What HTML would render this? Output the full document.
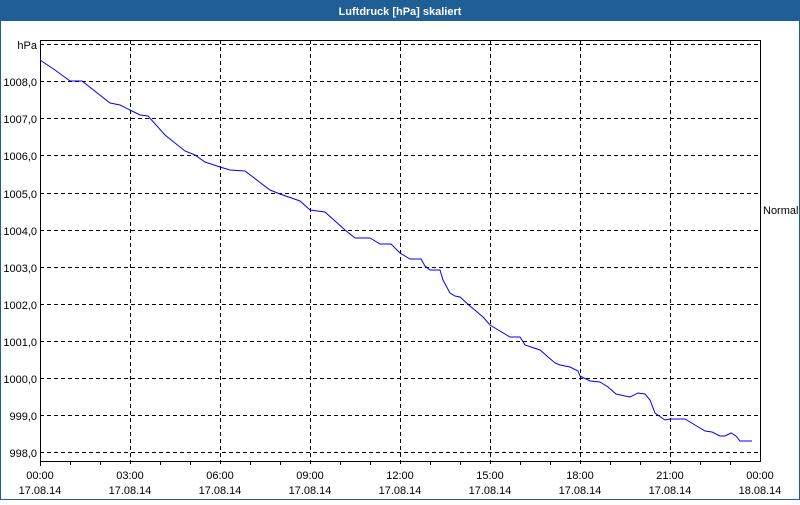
<!DOCTYPE html>
<html><head><style>
body{margin:0;width:800px;height:500px;overflow:hidden;background:#fff;font-family:"Liberation Sans",sans-serif;}
</style></head><body>
<svg width="800" height="500" xmlns="http://www.w3.org/2000/svg" font-family="Liberation Sans, sans-serif" font-size="11">
<rect x="0" y="0" width="800" height="500" fill="#fff"/>
<rect x="0" y="0" width="800" height="21" fill="#1f5f96"/>
<rect x="0.5" y="0.5" width="799" height="499" fill="none" stroke="#1f5f96" stroke-width="1"/>
<text x="400" y="15" text-anchor="middle" fill="#fff" font-weight="bold" font-size="11">Luftdruck [hPa] skaliert</text>
<g stroke="#000" stroke-dasharray="4,3" stroke-width="1">
<line x1="40" y1="44.5" x2="760" y2="44.5"/>
<line x1="40" y1="81.5" x2="760" y2="81.5"/>
<line x1="40" y1="118.5" x2="760" y2="118.5"/>
<line x1="40" y1="155.5" x2="760" y2="155.5"/>
<line x1="40" y1="193.5" x2="760" y2="193.5"/>
<line x1="40" y1="230.5" x2="760" y2="230.5"/>
<line x1="40" y1="267.5" x2="760" y2="267.5"/>
<line x1="40" y1="304.5" x2="760" y2="304.5"/>
<line x1="40" y1="341.5" x2="760" y2="341.5"/>
<line x1="40" y1="378.5" x2="760" y2="378.5"/>
<line x1="40" y1="415.5" x2="760" y2="415.5"/>
<line x1="40" y1="452.5" x2="760" y2="452.5"/>
<line x1="130.5" y1="40" x2="130.5" y2="466"/>
<line x1="220.5" y1="40" x2="220.5" y2="466"/>
<line x1="310.5" y1="40" x2="310.5" y2="466"/>
<line x1="400.5" y1="40" x2="400.5" y2="466"/>
<line x1="490.5" y1="40" x2="490.5" y2="466"/>
<line x1="580.5" y1="40" x2="580.5" y2="466"/>
<line x1="670.5" y1="40" x2="670.5" y2="466"/>
</g>
<rect x="40.5" y="40.5" width="720" height="421" fill="none" stroke="#000"/>
<g stroke="#000">
<line x1="70.5" y1="461" x2="70.5" y2="465"/><line x1="100.5" y1="461" x2="100.5" y2="465"/>
<line x1="160.5" y1="461" x2="160.5" y2="465"/><line x1="190.5" y1="461" x2="190.5" y2="465"/>
<line x1="250.5" y1="461" x2="250.5" y2="465"/><line x1="280.5" y1="461" x2="280.5" y2="465"/>
<line x1="340.5" y1="461" x2="340.5" y2="465"/><line x1="370.5" y1="461" x2="370.5" y2="465"/>
<line x1="430.5" y1="461" x2="430.5" y2="465"/><line x1="460.5" y1="461" x2="460.5" y2="465"/>
<line x1="520.5" y1="461" x2="520.5" y2="465"/><line x1="550.5" y1="461" x2="550.5" y2="465"/>
<line x1="610.5" y1="461" x2="610.5" y2="465"/><line x1="640.5" y1="461" x2="640.5" y2="465"/>
<line x1="700.5" y1="461" x2="700.5" y2="465"/><line x1="730.5" y1="461" x2="730.5" y2="465"/>
<line x1="40.5" y1="461" x2="40.5" y2="466"/>
</g>
<g fill="#000" text-anchor="end">
<text x="37" y="49">hPa</text>
<text x="37" y="86">1008,0</text>
<text x="37" y="123">1007,0</text>
<text x="37" y="160">1006,0</text>
<text x="37" y="198">1005,0</text>
<text x="37" y="235">1004,0</text>
<text x="37" y="272">1003,0</text>
<text x="37" y="309">1002,0</text>
<text x="37" y="346">1001,0</text>
<text x="37" y="383">1000,0</text>
<text x="37" y="420">999,0</text>
<text x="37" y="457">998,0</text>
</g>
<g fill="#000" text-anchor="middle">
<text x="40" y="479">00:00</text><text x="40" y="494">17.08.14</text>
<text x="130" y="479">03:00</text><text x="130" y="494">17.08.14</text>
<text x="220" y="479">06:00</text><text x="220" y="494">17.08.14</text>
<text x="310" y="479">09:00</text><text x="310" y="494">17.08.14</text>
<text x="400" y="479">12:00</text><text x="400" y="494">17.08.14</text>
<text x="490" y="479">15:00</text><text x="490" y="494">17.08.14</text>
<text x="580" y="479">18:00</text><text x="580" y="494">17.08.14</text>
<text x="670" y="479">21:00</text><text x="670" y="494">17.08.14</text>
<text x="760" y="479">00:00</text><text x="760" y="494">18.08.14</text>
</g>
<text x="763" y="214" fill="#000">Normal</text>
<polyline fill="none" stroke="#0000ff" stroke-width="1" points="40,60 55,70 70,81 82,81 110,103 120,105 130,110 140,115 148,116 165,135 185,151 195,155 205,162 220,167 230,170 245,171 270,190 280,194 300,201 310,210 325,212 345,230 355,238 370,238 380,244 391,244 400,253 410,259 421,259 425,266 430,270 440,270 443,280 450,293 455,296 460,297 470,306 483,317 490,325 510,337 520,337 525,345 531,347 540,350 555,363 560,365 570,367 578,371 580,376 590,381 600,382 608,387 616,394 625,396 630,397 638,393 645,394 650,400 655,413 665,420 670,419 676,419 685,419 695,425 705,431 712,432 720,436 725,436 731,433 736,436 740,441 745,441 752,441"/>
</svg>
</body></html>
